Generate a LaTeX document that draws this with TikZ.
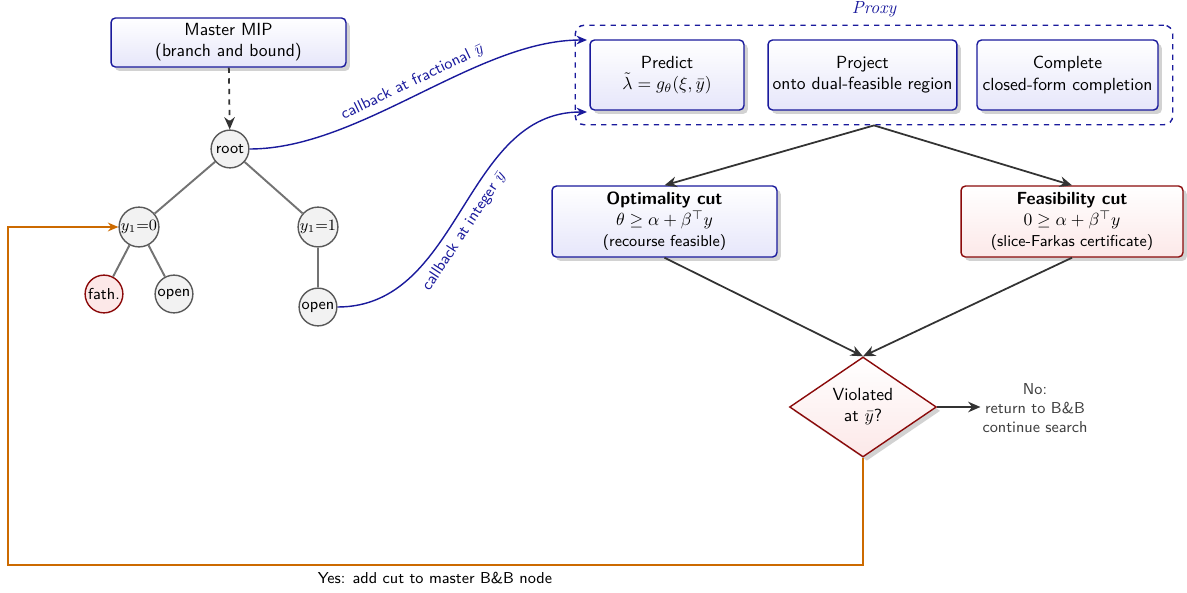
\documentclass[tikz,border=0pt]{standalone}
\usepackage{amsmath,amssymb}
\usetikzlibrary{arrows.meta,shapes.geometric,shadows,fit,positioning}
\definecolor{bbord}{HTML}{1A1A9C}
\definecolor{bfill}{HTML}{E6E6FA}
\definecolor{rbord}{HTML}{8B0A0A}
\definecolor{rfill}{HTML}{FCE8E8}
\definecolor{orng}{HTML}{CC6A00}
\definecolor{dgray}{HTML}{333333}
\tikzset{
  shad/.style={drop shadow={shadow xshift=2.2pt,shadow yshift=-2.2pt,fill=black!35}},
  bluebox/.style={draw=bbord,line width=0.8pt,rounded corners=2.5pt,top color=white,bottom color=bfill,align=center,inner sep=0pt,shad},
  redbox/.style={draw=rbord,line width=0.8pt,rounded corners=2.5pt,top color=white,bottom color=rfill,align=center,inner sep=0pt,shad},
  tnode/.style={circle,draw=black!65,line width=0.8pt,fill=black!5,minimum size=21.5pt,inner sep=0.3pt,font=\sffamily\small},
  fnode/.style={tnode,draw=rbord,fill=rfill},
  tedge/.style={draw=black!55,line width=1.1pt},
  darr/.style={draw=dgray,line width=1pt,-{Stealth[length=7pt,width=6pt]}},
  barr/.style={draw=bbord,line width=0.8pt,-{Stealth[length=6pt,width=5pt]}},
  oarr/.style={draw=orng,line width=0.9pt,-{Stealth[length=6pt,width=5pt]}},
  cblabel/.style={text=bbord,font=\sffamily\small,sloped}
}
\begin{document}
\begin{tikzpicture}[x=0.02cm,y=-0.02cm,font=\sffamily]
\useasboundingbox (0,0) rectangle (1187,592);
% master
\node[bluebox,minimum width=133.7pt,minimum height=27.9pt] (master) at (228.5,42.5) {Master MIP\\(branch and bound)};
% tree
\node[tnode] (root) at (230,149) {root};
\node[tnode] (y10) at (139,227) {$y_1{=}0$};
\node[tnode] (y11) at (318,227) {$y_1{=}1$};
\node[fnode] (fath) at (104,294) {fath.};
\node[tnode] (open1) at (174,294) {open};
\node[tnode] (open2) at (318,307) {open};
\draw[tedge] (root) -- (y10);
\draw[tedge] (root) -- (y11);
\draw[tedge] (y10) -- (fath);
\draw[tedge] (y10) -- (open1);
\draw[tedge] (y11) -- (open2);
\draw[darr,dashed] (master) -- (root);
% proxy
\node[bluebox,minimum width=87.6pt,minimum height=39.8pt] (pred) at (667,75) {Predict\\$\tilde{\lambda}=g_\theta(\xi,\bar{y})$};
\node[bluebox,minimum width=107.5pt,minimum height=39.8pt] (proj) at (862.5,75) {Project\\onto dual-feasible region};
\node[bluebox,minimum width=103pt,minimum height=39.8pt] (comp) at (1067.5,75) {Complete\\closed-form completion};
\node[draw=bbord,dashed,line width=0.8pt,rounded corners=5pt,inner sep=8pt,fit=(pred)(proj)(comp)] (proxy) {};
\node[text=bbord,font=\rmfamily\itshape,above=1pt of proxy.north] (proxylbl) {Proxy};
% cuts
\node[bluebox,minimum width=128pt,minimum height=40.4pt] (opt) at (664.5,221.5) {\textbf{Optimality cut}\\$\theta\geq\alpha+\beta^{\top}y$\\{\small(recourse feasible)}};
\node[redbox,minimum width=126.3pt,minimum height=40.4pt] (feas) at (1072,221.5) {\textbf{Feasibility cut}\\$0\geq\alpha+\beta^{\top}y$\\{\small(slice-Farkas certificate)}};
\draw[darr] (proxy.south) -- (opt.north);
\draw[darr] (proxy.south) -- (feas.north);
% diamond
\node[diamond,draw=rbord,line width=0.8pt,top color=white,bottom color=rfill,minimum width=83.6pt,minimum height=56.9pt,inner sep=0pt,align=center,shad] (viol) at (863,407) {Violated\\at $\bar{y}$?};
\draw[darr] (opt.south) -- (viol.north);
\draw[darr] (feas.south) -- (viol.north);
\node[text=black!75,font=\sffamily\small,align=center,inner sep=1pt] (no) at (1035,408) {No:\\return to B\&B\\continue search};
\draw[darr] (viol.east) -- (viol.east -| no.west);
% yes loop
\coordinate (yl) at (8,565);
\draw[oarr] (viol.south) |- (yl) |- (y10.west);
\node[font=\sffamily\small] (yes) at (435,578) {Yes: add cut to master B\&B node};
% callbacks
\coordinate (c1) at (587,40);
\coordinate (c2) at (587,112);
\draw[barr] (root.east) to[out=0,in=180,looseness=0.8] node[cblabel,above,pos=0.5] {callback at fractional $\bar{y}$} (c1);
\draw[barr] (open2.east) to[out=0,in=180] node[cblabel,below,pos=0.45] {callback at integer $\bar{y}$} (c2);
\end{tikzpicture}
\end{document}
